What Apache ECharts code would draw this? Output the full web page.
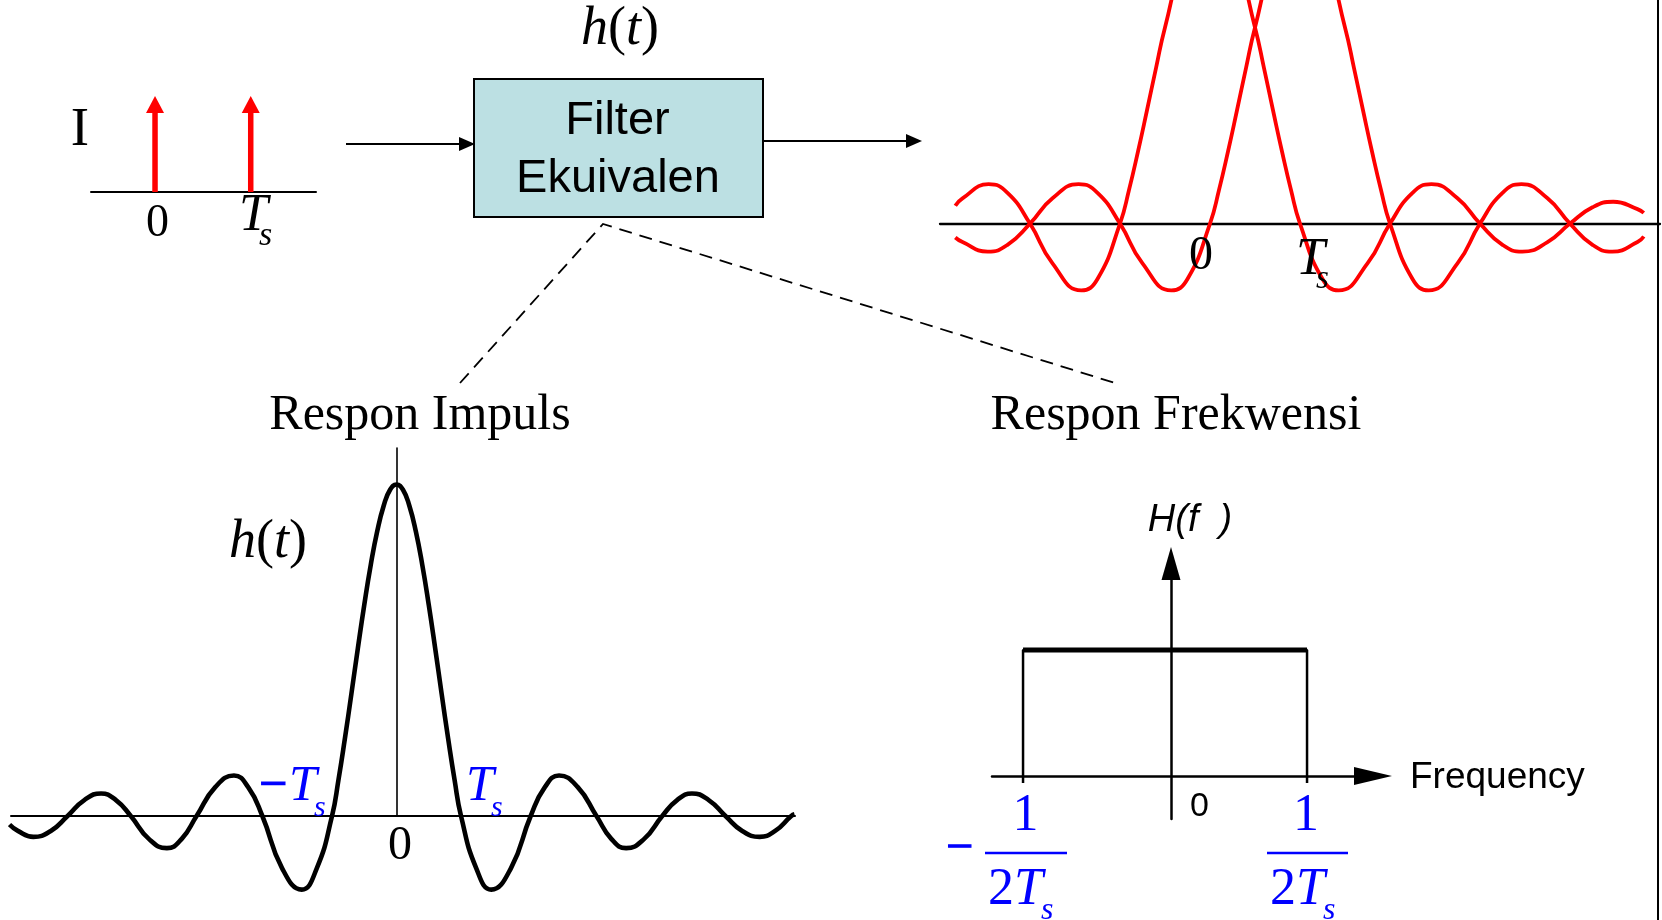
<!DOCTYPE html>
<html><head><meta charset="utf-8">
<script src="https://cdn.jsdelivr.net/npm/echarts@6/dist/echarts.min.js"></script>
<style>html,body{margin:0;padding:0;background:#fff}#c{width:1662px;height:920px}</style>
</head><body><div id="c"></div>
<script>
// ---------------- data ----------------
// input impulses: time (in Ts units) and strength
const impulseTimes = [0, 1];
const impulseHeights = [1, 1];

// output: two overlapping pulses, x in Ts units (first pulse centred at 0)
const pulse0X = [-2.83, -2.75, -2.46, -2.25, -2, -1.75, -1.43, -1.25, -1, -0.9, -0.8, -0.7, -0.6, -0.5, -0.25, 0,
                 0.25, 0.5, 0.6, 0.7, 0.8, 0.9, 1, 1.25, 1.43, 1.75, 2, 2.25, 2.46, 2.75, 3, 3.25, 3.47, 3.75, 4, 4.25, 4.48, 4.75, 4.82];
const pulse0Y = [0.058, 0.082, 0.128, 0.100, 0, -0.129, -0.217, -0.180, 0, 0.109, 0.234, 0.368, 0.505, 0.637, 0.90, 1,
                 0.90, 0.637, 0.505, 0.368, 0.234, 0.109, 0, -0.180, -0.217, -0.129, 0, 0.100, 0.128, 0.082, 0, -0.069, -0.091, -0.060, 0, 0.053, 0.071, 0.047, 0.035];
const pulse1X = [-2.83, -2.75, -2.47, -2.25, -2, -1.75, -1.46, -1.25, -1, -0.75, -0.43, -0.25, 0, 0.1, 0.2, 0.3, 0.4, 0.5, 0.75, 1,
                 1.25, 1.5, 1.6, 1.7, 1.8, 1.9, 2, 2.25, 2.43, 2.75, 3, 3.25, 3.46, 3.75, 4, 4.25, 4.47, 4.75, 4.82];
const pulse1Y = [-0.045, -0.060, -0.091, -0.069, 0, 0.082, 0.128, 0.100, 0, -0.129, -0.217, -0.180, 0, 0.109, 0.234, 0.368, 0.505, 0.637, 0.90, 1,
                 0.90, 0.637, 0.505, 0.368, 0.234, 0.109, 0, -0.180, -0.217, -0.129, 0, 0.100, 0.128, 0.082, 0, -0.069, -0.091, -0.060, -0.042];

// impulse response h(t): t in Ts units, amplitude relative to peak
const hX = [-6.0, -5.87, -5.63, -5.36, -5.1, -4.84, -4.58, -4.35, -4.12, -3.84, -3.56, -3.33, -3.1, -2.81, -2.52, -2.3, -2.08,
            -1.775, -1.47, -1.235, -1.0, -0.9, -0.8, -0.7, -0.6, -0.5, -0.4, -0.3, -0.2, -0.1, 0,
            0.1, 0.2, 0.3, 0.4, 0.5, 0.6, 0.7, 0.8, 0.9, 1.0, 1.235, 1.47, 1.775,
            2.08, 2.3, 2.52, 2.81, 3.1, 3.33, 3.56, 3.84, 4.12, 4.35, 4.58, 4.84, 5.1, 5.36, 5.63, 5.87, 6.12, 6.17];
const hY = [-0.026, -0.045, -0.063, -0.045, 0, 0.048, 0.068, 0.048, 0, -0.069, -0.097, -0.069, 0, 0.087, 0.122, 0.087, 0,
            -0.157, -0.222, -0.157, 0, 0.109, 0.234, 0.368, 0.505, 0.637, 0.757, 0.858, 0.935, 0.984, 1,
            0.984, 0.935, 0.858, 0.757, 0.637, 0.505, 0.368, 0.234, 0.109, 0, -0.157, -0.222, -0.157,
            0, 0.087, 0.122, 0.087, 0, -0.069, -0.097, -0.069, 0, 0.048, 0.068, 0.048, 0, -0.045, -0.063, -0.045, 0, 0.005];

// frequency response H(f): band edges and gain
const bandEdges = [-1.042, 0.958];
const bandGain = 1;
const bandFoot = -0.055;

// text labels
const inputLabels = ['I', '0', 'T', 's'];
const outputLabels = ['0', 'T', 's'];
const impulseLabels = ['\u2212', 'T', 's', '0'];
const freqLabels = ['H(f  )', 'Frequency', '0'];
const fracLabels = ['\u2212', '1', '2', 'T', 's'];
const blockLabels = ['Filter', 'Ekuivalen'];
const titles = ['Respon Impuls', 'Respon Frekwensi'];

// ---------------- helpers ----------------
const SERIF = "'Liberation Serif','Times New Roman',serif";
const SANS = "'Liberation Sans',Arial,sans-serif";
function txt(text, x, baseline, size, o) {
  o = o || {};
  const fam = o.sans ? SANS : SERIF;
  const k = o.sans ? 0.33 : 0.32;
  const al = o.align || 'center';
  const st = {
    text: text, x: x, y: baseline - k * size,
    font: (o.italic ? 'italic ' : '') + size + 'px ' + fam,
    fill: o.color || '#000',
    textAlign: al, align: al,
    textVerticalAlign: 'middle', verticalAlign: 'middle'
  };
  if (o.stroke) { st.stroke = o.color || '#000'; st.lineWidth = o.stroke; }
  return { type: 'text', z: 100, silent: true, style: st };
}
function richTxt(parts, x, baseline, size, o) {
  o = o || {};
  const al = o.align || 'center';
  return {
    type: 'text', z: 100, silent: true,
    style: {
      text: parts.map(p => '{' + (p[1] ? 'i' : 'r') + '|' + p[0] + '}').join(''),
      x: x, y: baseline - 0.32 * size,
      textAlign: al, align: al, textVerticalAlign: 'middle', verticalAlign: 'middle',
      rich: {
        i: { font: 'italic ' + size + 'px ' + SERIF, fill: o.color || '#000' },
        r: { font: size + 'px ' + SERIF, fill: o.color || '#000' }
      }
    }
  };
}
function line(x1, y1, x2, y2, w, c) {
  return { type: 'line', z: 50, silent: true, shape: { x1, y1, x2, y2 }, style: { stroke: c || '#000', lineWidth: w } };
}
function pairs(xs, ys) { return xs.map((x, i) => [x, ys[i]]); }

const BLUE = '#0000ff';
const RED = '#ff0000';

const noAxisBits = { axisTick: { show: false }, axisLabel: { show: false }, splitLine: { show: false } };

const option = {
  animation: false,
  backgroundColor: '#fff',
  grid: [
    { left: 91, top: 92, width: 225, height: 100, outerBoundsMode: 'none' },
    { left: 940, top: 0, width: 720, height: 316, outerBoundsMode: 'none' },
    { left: 11, top: 448, width: 784, height: 368, outerBoundsMode: 'none' },
    { left: 992, top: 563.5, width: 381, height: 255.5, outerBoundsMode: 'none' }
  ],
  xAxis: [
    Object.assign({ gridIndex: 0, type: 'value', min: -0.669, max: 1.682,
      axisLine: { show: true, lineStyle: { color: '#000', width: 2 } } }, noAxisBits),
    Object.assign({ gridIndex: 1, type: 'value', min: -3, max: 5,
      axisLine: { show: true, onZero: true, lineStyle: { color: '#000', width: 2.3 } } }, noAxisBits),
    Object.assign({ gridIndex: 2, type: 'value', min: -5.977, max: 6.178,
      axisLine: { show: true, lineStyle: { color: '#000', width: 2 } } }, noAxisBits),
    Object.assign({ gridIndex: 3, type: 'value', min: -1.2606, max: 1.4225,
      axisLine: { show: true, onZero: true, symbol: ['none', 'triangle'], symbolSize: [18, 38],
        lineStyle: { color: '#000', width: 2.5 } } }, noAxisBits)
  ],
  yAxis: [
    Object.assign({ gridIndex: 0, type: 'value', min: 0, max: 1.143, axisLine: { show: false } }, noAxisBits),
    Object.assign({ gridIndex: 1, type: 'value', min: -0.3, max: 0.726, axisLine: { show: false } }, noAxisBits),
    Object.assign({ gridIndex: 2, type: 'value', min: 0, max: 1.110,
      axisLine: { show: true, onZero: true, lineStyle: { color: '#000', width: 1.6 } } }, noAxisBits),
    Object.assign({ gridIndex: 3, type: 'value', min: -0.341, max: 1.687,
      axisLine: { show: true, onZero: true, symbol: ['none', 'triangle'], symbolSize: [19, 33],
        lineStyle: { color: '#000', width: 2.5 } } }, noAxisBits)
  ],
  series: [].concat(
    impulseTimes.map((t, i) => ({
      type: 'line', xAxisIndex: 0, yAxisIndex: 0, silent: true, z: 5,
      symbol: 'triangle', symbolSize: [18, 17], showSymbol: true,
      itemStyle: { color: RED, borderWidth: 0 },
      lineStyle: { color: RED, width: 5.5 },
      data: [{ value: [t, 0], symbol: 'none' }, { value: [t, impulseHeights[i]] }]
    })),
    [
      { type: 'line', xAxisIndex: 1, yAxisIndex: 1, silent: true, smooth: 0.5, symbol: 'none',
        lineStyle: { color: RED, width: 3.8 }, data: pairs(pulse0X, pulse0Y) },
      { type: 'line', xAxisIndex: 1, yAxisIndex: 1, silent: true, smooth: 0.5, symbol: 'none',
        lineStyle: { color: RED, width: 3.8 }, data: pairs(pulse1X, pulse1Y) },
      { type: 'line', xAxisIndex: 2, yAxisIndex: 2, silent: true, smooth: 0.5, symbol: 'none', clip: false,
        lineStyle: { color: '#000', width: 4.6 }, data: pairs(hX, hY) },
      { type: 'line', xAxisIndex: 3, yAxisIndex: 3, silent: true, symbol: 'none',
        lineStyle: { color: '#000', width: 2.5 },
        data: [[bandEdges[0], bandFoot], [bandEdges[0], bandGain], [bandEdges[1], bandGain], [bandEdges[1], bandFoot]] },
      { type: 'line', xAxisIndex: 3, yAxisIndex: 3, silent: true, symbol: 'none',
        lineStyle: { color: '#000', width: 5 },
        data: [[bandEdges[0], bandGain], [bandEdges[1], bandGain]] }
    ]
  ),
  graphic: { elements: [
    // block diagram
    { type: 'rect', z: 40, silent: true, shape: { x: 474, y: 79, width: 289, height: 138 },
      style: { fill: '#bce0e3', stroke: '#000', lineWidth: 2 } },
    line(346, 144, 462, 144, 2),
    { type: 'polygon', z: 50, silent: true, shape: { points: [[475, 144], [459, 137], [459, 151]] }, style: { fill: '#000' } },
    line(763, 141, 908, 141, 2),
    { type: 'polygon', z: 50, silent: true, shape: { points: [[922, 141], [906, 134], [906, 148]] }, style: { fill: '#000' } },
    { type: 'polyline', z: 50, silent: true, shape: { points: [[460, 383], [603, 224], [1115, 383]] },
      style: { stroke: '#000', lineWidth: 1.8, lineDash: [13, 8], fill: null } },
    // right frame line
    line(1658, 0, 1658, 920, 2),
    // fraction bars
    line(985, 853, 1067, 853, 2.5, BLUE),
    line(1267, 853, 1348, 853, 2.5, BLUE),

    // input labels
    txt(inputLabels[0], 80, 148, 55),
    txt(inputLabels[1], 157.5, 239, 46),
    txt(inputLabels[2], 239, 233, 52, { italic: true, align: 'left' }),
    txt(inputLabels[3], 259, 247, 34, { italic: true, align: 'left' }),

    // block labels
    richTxt([['h', true], ['(', false], ['t', true], [')', false]], 620, 47, 54),
    txt(blockLabels[0], 617.5, 137, 47, { sans: true }),
    txt(blockLabels[1], 618, 195, 47, { sans: true }),

    // output labels
    txt(outputLabels[0], 1201, 272, 48),
    txt(outputLabels[1], 1296, 277, 52, { italic: true, align: 'left' }),
    txt(outputLabels[2], 1316, 290, 33, { italic: true, align: 'left' }),

    // titles
    txt(titles[0], 420, 432, 50),
    txt(titles[1], 1176, 432, 50),

    // impulse response labels
    richTxt([['h', true], ['(', false], ['t', true], [')', false]], 268, 560, 54),
    txt(impulseLabels[3], 400, 862, 48),
    txt(impulseLabels[0], 259, 803, 50, { color: BLUE, align: 'left', stroke: 1.2 }),
    txt(impulseLabels[1], 289, 803, 50, { color: BLUE, italic: true, align: 'left' }),
    txt(impulseLabels[2], 314, 818, 30, { color: BLUE, italic: true, align: 'left' }),
    txt(impulseLabels[1], 466, 803, 50, { color: BLUE, italic: true, align: 'left' }),
    txt(impulseLabels[2], 491, 818, 30, { color: BLUE, italic: true, align: 'left' }),

    // frequency response labels
    txt(freqLabels[0], 1190, 533, 38, { sans: true, italic: true }),
    txt(freqLabels[1], 1410, 790, 37, { sans: true, align: 'left' }),
    txt(freqLabels[2], 1199.5, 818, 34, { sans: true }),
    txt(fracLabels[0], 946, 865, 48, { color: BLUE, align: 'left', stroke: 1.2 }),
    txt(fracLabels[1], 1025.5, 833, 52, { color: BLUE }),
    txt(fracLabels[1], 1306, 833, 52, { color: BLUE }),
    richTxt([[fracLabels[2], false], [fracLabels[3], true]], 988, 907, 52, { color: BLUE, align: 'left' }),
    txt(fracLabels[4], 1041, 921, 32, { color: BLUE, italic: true, align: 'left' }),
    richTxt([[fracLabels[2], false], [fracLabels[3], true]], 1270, 907, 52, { color: BLUE, align: 'left' }),
    txt(fracLabels[4], 1323, 921, 32, { color: BLUE, italic: true, align: 'left' })
  ] }
};

const chart = echarts.init(document.getElementById('c'), null, { renderer: 'canvas' });
chart.setOption(option);
</script>
</body></html>
